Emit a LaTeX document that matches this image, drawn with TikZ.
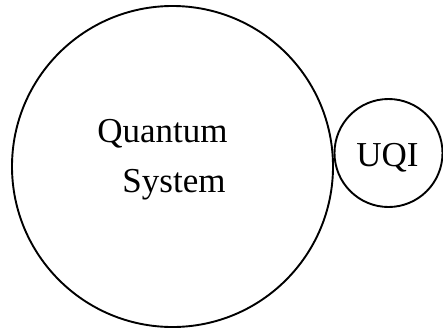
\documentclass[tikz,border=0pt]{standalone}
\usepackage{fontspec}
\setmainfont{Liberation Serif}
\begin{document}
\begin{tikzpicture}[x=1pt,y=-1pt,
  ring/.style={circle,draw=black,line width=1.9pt,inner sep=0pt},
  lbl/.style={font=\fontsize{35}{40}\selectfont,anchor=base,inner sep=0pt}]
\useasboundingbox (0,0) rectangle (443,332);
\node[ring,minimum size=321pt] (big) at (172.5,166.5) {};
\node[ring,minimum size=108pt] (small) at (388.5,153) {};
\node[lbl] (q) at (162.5,142) {Quantum};
\node[lbl] (s) at (174,192) {System};
\node[lbl] (u) at (387.5,166) {UQI};
\end{tikzpicture}
\end{document}
